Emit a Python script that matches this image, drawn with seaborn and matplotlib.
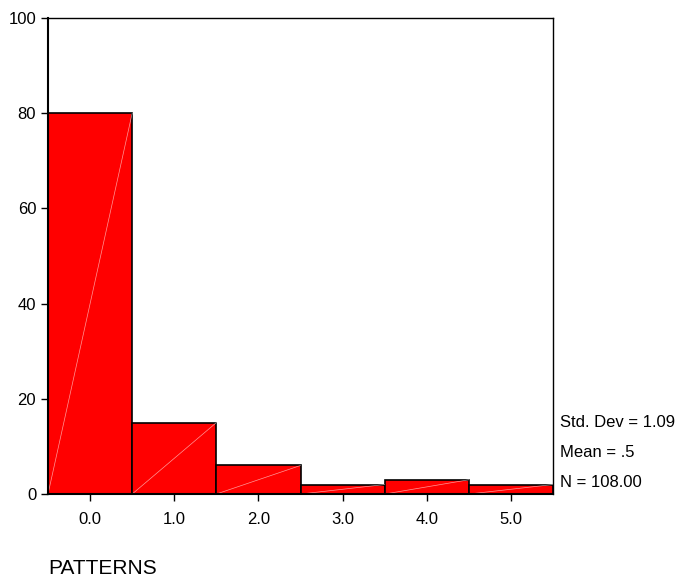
import matplotlib
matplotlib.use("Agg")
import matplotlib.pyplot as plt
import seaborn as sns
import pandas as pd

# values
patterns = [0, 1, 2, 3, 4, 5]
counts = [80, 15, 6, 2, 3, 2]
tick_labels = ["0.0", "1.0", "2.0", "3.0", "4.0", "5.0"]
stats_lines = ["Std. Dev = 1.09", "Mean = .5", "N = 108.00"]

df = pd.DataFrame({"PATTERNS": patterns, "count": counts})

sns.set_style("ticks")
plt.rcParams["font.family"] = ["Liberation Sans", "DejaVu Sans"]
plt.rcParams["text.color"] = "black"

fig = plt.figure(figsize=(6.83, 5.77), dpi=100)
ax = fig.add_axes([0.0703, 0.1438, 0.7394, 0.825])

sns.histplot(data=df, x="PATTERNS", weights="count", discrete=True,
             color="#ff0000", alpha=1, edgecolor="black", linewidth=1.2, ax=ax)

# faint white diagonals inside each bar (SPSS rendering artefact)
for x, c in zip(patterns, counts):
    ax.plot([x - 0.5, x + 0.5], [0, c], color="white", lw=0.5, alpha=0.6)

ax.set_xlim(-0.5, 5.5)
ax.set_ylim(0, 100)
ax.set_xticks(patterns)
ax.set_xticklabels(tick_labels)
ax.set_yticks([0, 20, 40, 60, 80, 100])
ax.set_xlabel("")
ax.set_ylabel("")
ax.tick_params(axis="both", labelsize=12, length=5, width=1, color="black",
               labelcolor="black")
ax.tick_params(axis="x", pad=8)
for s in ax.spines.values():
    s.set_visible(True)
    s.set_linewidth(1)
    s.set_color("black")
ax.spines["left"].set_linewidth(1.5)
ax.spines["bottom"].set_linewidth(1.5)

for i, line in enumerate(stats_lines):
    fig.text(0.82, 0.268 - i * 0.052, line, fontsize=12, va="center", ha="left")

fig.text(0.0703, 0.016, "PATTERNS", fontsize=15, ha="left", va="center",
         transform=fig.transFigure).set_y(1 - 568 / 577)

fig.savefig("out.png", dpi=100)
